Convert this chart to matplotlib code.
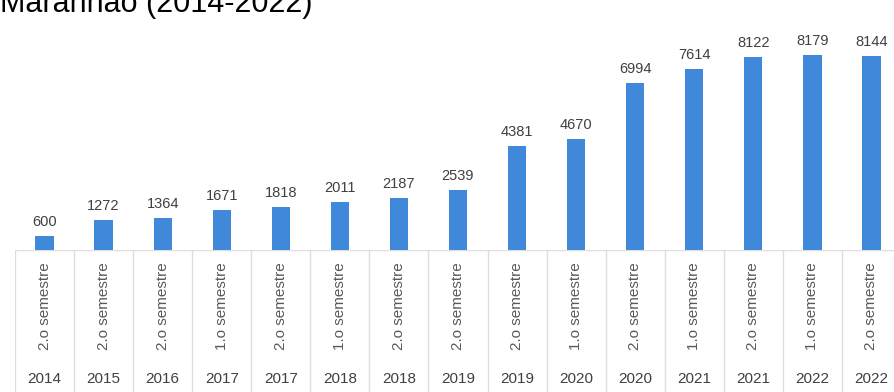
import matplotlib.pyplot as plt

valores = [600, 1272, 1364, 1671, 1818, 2011, 2187, 2539, 4381, 4670, 6994, 7614, 8122, 8179, 8144]
semestres = ["2.o semestre", "2.o semestre", "2.o semestre", "1.o semestre", "2.o semestre",
             "1.o semestre", "2.o semestre", "2.o semestre", "2.o semestre", "1.o semestre",
             "2.o semestre", "1.o semestre", "2.o semestre", "1.o semestre", "2.o semestre"]
anos = ["2014", "2015", "2016", "2017", "2017", "2018", "2018", "2019", "2019", "2020",
        "2020", "2021", "2021", "2022", "2022"]

plt.rcParams['font.family'] = ['Liberation Sans Narrow', 'Liberation Sans', 'DejaVu Sans']

W, H = 894, 392
fig = plt.figure(figsize=(W / 100, H / 100), dpi=100)

x0, x1 = 15, 901      # celulas da tabela (px)
base, topo = 250, 20  # linha de base e topo do eixo (px)
escala = 194 / 8144   # px por unidade

n = len(valores)
ax = fig.add_axes([x0 / W, 1 - base / H, (x1 - x0) / W, (base - topo) / H])
ax.set_xlim(-0.5, n - 0.5)
ax.set_ylim(0, (base - topo) / escala)
barras = ax.bar(range(n), valores, width=0.31, color='#4089da')
ax.bar_label(barras, labels=[str(v) for v in valores], padding=5, fontsize=10.5, color='#404040')
ax.axis('off')

# tabela de categorias abaixo das barras
tb = fig.add_axes([x0 / W, 0, (x1 - x0) / W, 1 - base / H])
tb.set_xlim(-0.5, n - 0.5)
tb.set_ylim(H, base)
tb.axis('off')
for i in range(n + 1):
    tb.plot([i - 0.5, i - 0.5], [base, H], color='#dedede', lw=1)
tb.plot([-0.5, n - 0.5], [base, base], color='#dedede', lw=1)
for i in range(n):
    tb.text(i, 306, semestres[i], rotation=90, ha='center', va='center',
            fontsize=11, color='#595959')
    tb.text(i, 379, anos[i], ha='center', va='center', fontsize=11, color='#404040')

fig.text(0, 1 - 12 / H, "Maranhão (2014-2022)", fontsize=22, color='black',
         family=['Liberation Sans', 'DejaVu Sans'], va='baseline', ha='left')

fig.savefig('out.png', dpi=100)
